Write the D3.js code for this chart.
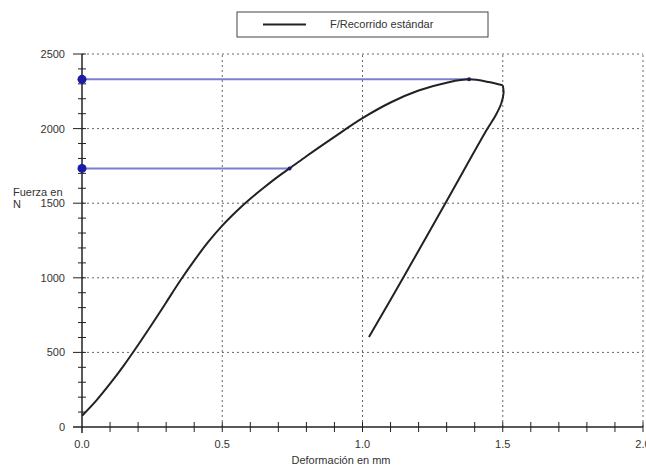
<!DOCTYPE html>
<html>
<head>
<meta charset="utf-8">
<script src="https://cdn.jsdelivr.net/npm/d3@7"></script>
<style>
  body { margin: 0; background: #fff; }
  text { font-family: "Liberation Sans", Arial, sans-serif; fill: #333; }
</style>
</head>
<body>
<svg id="chart"></svg>
<script>
// loading branch (mm, N)
const loadX = [0, 0.05, 0.1, 0.15, 0.2, 0.25, 0.3, 0.35, 0.4, 0.45, 0.5, 0.55, 0.6, 0.65, 0.7, 0.74, 0.8, 0.9, 1.0, 1.1, 1.2, 1.3, 1.38, 1.45, 1.5]
const loadY = [75, 175, 290, 415, 550, 690, 835, 980, 1115, 1240, 1350, 1445, 1530, 1607, 1680, 1733, 1815, 1945, 2070, 2175, 2255, 2308, 2330, 2312, 2290]
// unloading branch
const unloadX = [1.5, 1.503, 1.495, 1.475, 1.444, 1.3, 1.145, 1.023]
const unloadY = [2290, 2240, 2170, 2090, 1995, 1515, 1000, 603]
// marked points
const markX = [0.74, 1.38]
const markY = [1733, 2330]
const xTicks = [0, 0.5, 1.0, 1.5, 2.0]
const yTicks = [0, 500, 1000, 1500, 2000, 2500]
const legendLabel = 'F/Recorrido estándar'

const svg = d3.select('#chart').attr('width', 646).attr('height', 470)

const x = d3.scaleLinear().domain([0, 2]).range([82, 643])
const y = d3.scaleLinear().domain([0, 2500]).range([427, 54])

// grid
svg.selectAll('.gx').data(xTicks.slice(1)).enter().append('line')
    .attr('x1', d => x(d)).attr('x2', d => x(d))
    .attr('y1', y(0)).attr('y2', y(2500))
    .attr('stroke', '#666').attr('stroke-width', 1).attr('stroke-dasharray', '2,3')
svg.selectAll('.gy').data(yTicks.slice(1)).enter().append('line')
    .attr('x1', x(0)).attr('x2', x(2))
    .attr('y1', d => y(d)).attr('y2', d => y(d))
    .attr('stroke', '#666').attr('stroke-width', 1).attr('stroke-dasharray', '2,3')

// axes
svg.append('line').attr('x1', x(0)).attr('x2', x(2)).attr('y1', y(0)).attr('y2', y(0))
    .attr('stroke', '#222').attr('stroke-width', 1.5)
svg.append('line').attr('x1', x(0)).attr('x2', x(0)).attr('y1', y(0) + 6).attr('y2', y(2500))
    .attr('stroke', '#222').attr('stroke-width', 1.5)
svg.append('line').attr('x1', x(0) - 9).attr('x2', x(0)).attr('y1', y(0)).attr('y2', y(0))
    .attr('stroke', '#222').attr('stroke-width', 1.5)

const minorX = d3.range(1, 21).map(i => i / 10)
svg.selectAll('.tx').data(minorX).enter().append('line')
    .attr('x1', d => x(d)).attr('x2', d => x(d))
    .attr('y1', y(0) - 5).attr('y2', y(0) + 5)
    .attr('stroke', '#222').attr('stroke-width', 1)
const minorY = d3.range(1, 26).map(i => i * 100)
svg.selectAll('.ty').data(minorY).enter().append('line')
    .attr('x1', d => x(0) - (d % 500 ? 4 : 9)).attr('x2', x(0) + 4)
    .attr('y1', d => y(d)).attr('y2', d => y(d))
    .attr('stroke', '#222').attr('stroke-width', 1)

// tick labels
svg.selectAll('.lx').data(xTicks).enter().append('text')
    .attr('x', d => x(d)).attr('y', y(0) + 21)
    .attr('text-anchor', 'middle').attr('font-size', 11)
    .text(d => d.toFixed(1))
svg.selectAll('.ly').data(yTicks).enter().append('text')
    .attr('x', 65).attr('y', d => y(d) + 4)
    .attr('text-anchor', 'end').attr('font-size', 11)
    .text(d => d)

svg.append('text').attr('x', 341).attr('y', 464).attr('text-anchor', 'middle')
    .attr('font-size', 11).text('Deformación en mm')
svg.append('text').attr('x', 13).attr('y', 196).attr('font-size', 11).text('Fuerza en')
svg.append('text').attr('x', 13).attr('y', 208).attr('font-size', 11).text('N')

// blue marker lines
svg.selectAll('.ml').data(markX).enter().append('line')
    .attr('x1', x(0)).attr('x2', d => x(d))
    .attr('y1', (d, i) => y(markY[i])).attr('y2', (d, i) => y(markY[i]))
    .attr('stroke', '#7b7fd0').attr('stroke-width', 2)

// curve
const line = d3.line().x(d => x(d[0])).y(d => y(d[1])).curve(d3.curveMonotoneX)
const lineU = d3.line().x(d => x(d[0])).y(d => y(d[1])).curve(d3.curveCatmullRom)
svg.append('path').datum(loadX.map((v, i) => [v, loadY[i]]))
    .attr('d', line).attr('fill', 'none').attr('stroke', '#222').attr('stroke-width', 2)
svg.append('path').datum(unloadX.map((v, i) => [v, unloadY[i]]))
    .attr('d', lineU).attr('fill', 'none').attr('stroke', '#222').attr('stroke-width', 2)

svg.selectAll('.bd').data(markY).enter().append('circle')
    .attr('cx', x(0)).attr('cy', d => y(d)).attr('r', 4.5).attr('fill', '#1c1ca8')
svg.selectAll('.sd').data(markX).enter().append('circle')
    .attr('cx', d => x(d)).attr('cy', (d, i) => y(markY[i])).attr('r', 2).attr('fill', '#1a1a60')

// legend
svg.append('rect').attr('x', 237).attr('y', 12).attr('width', 251).attr('height', 25)
    .attr('fill', '#fff').attr('stroke', '#444').attr('stroke-width', 1)
svg.append('line').attr('x1', 263).attr('x2', 306).attr('y1', 24.5).attr('y2', 24.5)
    .attr('stroke', '#222').attr('stroke-width', 2)
svg.append('text').attr('x', 330).attr('y', 28).attr('font-size', 11).text(legendLabel)
</script>
</body>
</html>
